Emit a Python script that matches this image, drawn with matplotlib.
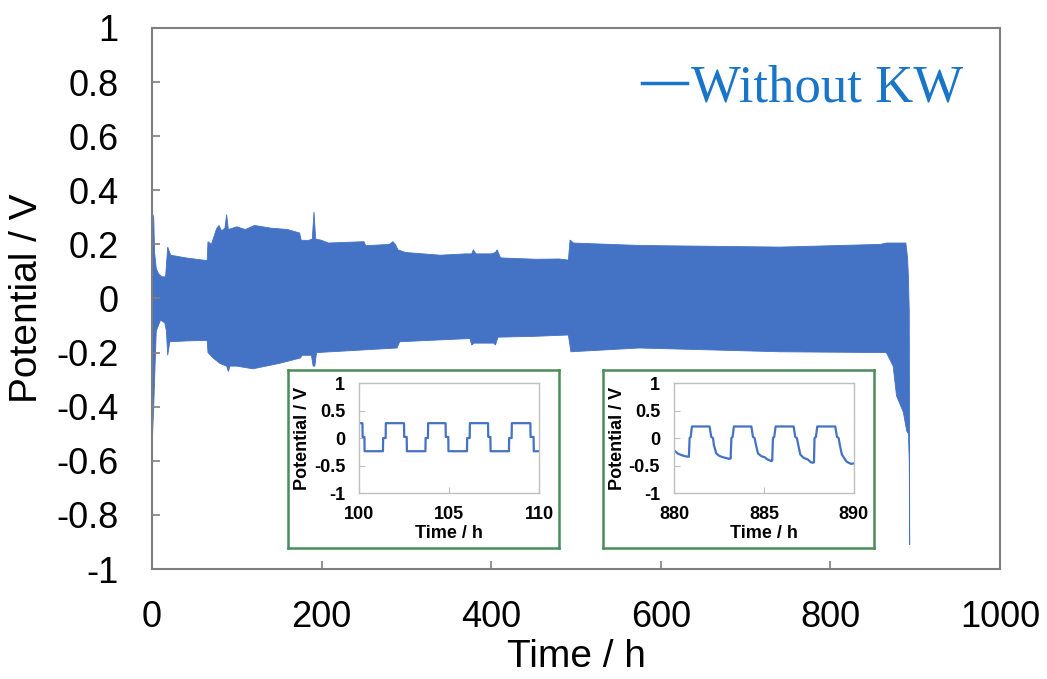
import numpy as np
import matplotlib
matplotlib.use("Agg")
import matplotlib.pyplot as plt
from matplotlib.lines import Line2D
from matplotlib.ticker import FuncFormatter

plt.rcParams['font.family'] = ['Liberation Sans', 'DejaVu Sans']
plt.rcParams['axes.unicode_minus'] = False

# envelope of the long-term cycling trace
t_upper = [0, 2, 3, 5, 8, 12, 16, 18.5, 22, 40, 60, 65, 66, 70, 76, 79, 82, 86, 88, 90,
           100, 110, 121, 140, 160, 174, 176, 185, 189, 191, 193, 200, 208, 250, 252, 280,
           284, 287, 290, 299, 340, 370, 377, 379, 382, 400, 405, 407, 411, 453, 480, 491,
           493, 497, 575, 741, 859, 866, 889, 891, 892, 893, 893.5]
v_upper = [0.32, 0.3, 0.17, 0.11, 0.09, 0.08, 0.08, 0.19, 0.16, 0.15, 0.142, 0.14, 0.21, 0.2,
           0.257, 0.27, 0.25, 0.26, 0.31, 0.255, 0.265, 0.255, 0.27, 0.26, 0.255, 0.242, 0.215,
           0.215, 0.22, 0.32, 0.22, 0.215, 0.205, 0.21, 0.195, 0.2, 0.21, 0.2, 0.18, 0.17,
           0.16, 0.165, 0.165, 0.18, 0.165, 0.165, 0.17, 0.18, 0.15, 0.145, 0.146, 0.142,
           0.216, 0.205, 0.196, 0.19, 0.2, 0.205, 0.205, 0.15, 0.08, -0.05, -0.85]
t_lower = [0, 2, 3, 5, 10, 15, 17, 18.5, 21, 40, 60, 65, 66, 72, 80, 88, 90, 92, 100, 119,
           150, 175, 177, 188, 190, 192, 194, 250, 289, 292, 340, 375, 377, 380, 403, 405,
           408, 450, 491, 494, 575, 741, 866, 874, 878, 886, 890, 892, 893, 893.5]
v_lower = [-0.55, -0.4, -0.3, -0.12, -0.08, -0.09, -0.12, -0.21, -0.16, -0.157, -0.155,
           -0.155, -0.2, -0.22, -0.24, -0.25, -0.27, -0.25, -0.25, -0.26, -0.24, -0.22, -0.21,
           -0.21, -0.25, -0.25, -0.2, -0.19, -0.183, -0.16, -0.153, -0.148, -0.172, -0.165,
           -0.165, -0.172, -0.143, -0.14, -0.135, -0.197, -0.183, -0.197, -0.2, -0.25, -0.36,
           -0.42, -0.49, -0.5, -0.6, -0.91]

# inset 1: 100-110 h
t_in1 = [100.0, 100.19, 100.2, 100.3, 100.31, 101.33, 101.34, 101.48, 101.49, 102.5, 102.51,
         102.65, 102.66, 103.69, 103.7, 103.83, 103.84, 104.81, 104.82, 104.96, 104.97, 106.0,
         106.01, 106.15, 106.16, 107.17, 107.18, 107.3, 107.31, 108.33, 108.34, 108.48, 108.49,
         109.52, 109.53, 109.7, 109.71, 110.0]
v_in1 = [0.27, 0.27, 0.02, 0.02, -0.24, -0.24, 0.0, 0.0, 0.27, 0.27, 0.02, 0.02, -0.24,
         -0.24, 0.0, 0.0, 0.27, 0.27, 0.02, 0.02, -0.24, -0.24, 0.0, 0.0, 0.27, 0.27, 0.02,
         0.02, -0.24, -0.24, 0.0, 0.0, 0.27, 0.27, 0.02, 0.02, -0.24, -0.24]

# inset 2: 880-890 h
t_in2 = [880.0, 880.2, 880.41, 880.6, 880.78, 880.83, 880.87, 880.93, 881.0, 881.98, 882.07,
         882.17, 882.22, 882.35, 882.5, 882.63, 882.85, 883.09, 883.15, 883.19, 883.26, 883.33,
         884.3, 884.39, 884.48, 884.56, 884.67, 884.85, 885.04, 885.2, 885.41, 885.46, 885.5,
         885.57, 885.65, 886.65, 886.74, 886.83, 886.91, 887.02, 887.2, 887.44, 887.6, 887.72,
         887.78, 887.81, 887.89, 887.96, 888.96, 889.06, 889.15, 889.22, 889.33, 889.57,
         889.7, 889.85, 890.0]
v_in2 = [-0.22, -0.28, -0.31, -0.33, -0.34, -0.34, 0.0, 0.02, 0.21, 0.21, 0.02, 0.0, -0.13,
         -0.28, -0.32, -0.34, -0.36, -0.38, -0.37, 0.0, 0.02, 0.21, 0.21, 0.02, 0.0, -0.13,
         -0.28, -0.33, -0.35, -0.39, -0.42, -0.41, 0.0, 0.02, 0.21, 0.21, 0.02, 0.0, -0.13,
         -0.3, -0.36, -0.39, -0.44, -0.45, -0.44, 0.0, 0.02, 0.21, 0.21, 0.02, 0.0, -0.13,
         -0.3, -0.42, -0.45, -0.47, -0.46]

blue = '#4472c4'
green = '#4a8c5c'
fmt = FuncFormatter(lambda v, p: '0' if abs(v) < 1e-9 else '%g' % round(v, 3))

fig = plt.figure(figsize=(10.47, 6.79), dpi=100)
ax = fig.add_axes([0.1452, 0.162, 0.8099, 0.7968])

poly_t = np.r_[t_upper, t_lower[::-1]]
poly_v = np.r_[v_upper, v_lower[::-1]]
ax.fill(poly_t, poly_v, color=blue, lw=0.6)

ax.set_xlim(0, 1000)
ax.set_ylim(-1, 1)
ax.set_xticks(np.arange(0, 1001, 200))
ax.set_yticks(np.round(np.arange(-1, 1.01, 0.2), 1))
ax.yaxis.set_major_formatter(fmt)
ax.tick_params(direction='in', length=6, width=1.2, color='#7f7f7f', labelsize=26)
ax.tick_params(axis='y', pad=24)
ax.tick_params(axis='x', pad=22)
for s in ax.spines.values():
    s.set_color('#7f7f7f')
    s.set_linewidth(1.5)
ax.set_xlabel('Time / h', fontsize=28, labelpad=3)
ax.set_ylabel('Potential / V', fontsize=28, labelpad=8)

leg = ax.legend(handles=[Line2D([], [], color='#1a75c8', lw=2.5)], labels=['Without KW'],
                loc='upper right', frameon=False, handlelength=0.85, handletextpad=0.08,
                borderaxespad=0.3, prop={'family': 'Liberation Serif', 'size': 38})
for txt in leg.get_texts():
    txt.set_color('#1a75c8')


def inset(box_left, ax_left, t, v, xlim, xticks):
    box = fig.add_axes([box_left, 0.1929, 0.2588, 0.2622])
    box.set_xticks([])
    box.set_yticks([])
    for s in box.spines.values():
        s.set_color(green)
        s.set_linewidth(1.8)
    ia = fig.add_axes([ax_left, 0.2739, 0.1719, 0.162])
    ia.plot(t, v, color=blue, lw=1.6)
    ia.set_xlim(*xlim)
    ia.set_ylim(-1, 1)
    ia.set_xticks(xticks)
    ia.set_yticks([-1, -0.5, 0, 0.5, 1])
    ia.yaxis.set_major_formatter(fmt)
    ia.tick_params(direction='in', length=4, color='#bfbfbf', labelsize=13)
    ia.tick_params(axis='y', pad=10)
    ia.tick_params(axis='x', pad=9)
    for lab in ia.get_xticklabels() + ia.get_yticklabels():
        lab.set_fontweight('bold')
    for s in ia.spines.values():
        s.set_color('#c0c0c0')
        s.set_linewidth(1.0)
    ia.set_xlabel('Time / h', fontsize=13, fontweight='bold', labelpad=2)
    ia.set_ylabel('Potential / V', fontsize=13, fontweight='bold', labelpad=2)


inset(0.2751, 0.3429, t_in1, v_in1, (100, 110), [100, 105, 110])
inset(0.5759, 0.6437, t_in2, v_in2, (880, 890), [880, 885, 890])

fig.savefig('out.png', dpi=100)
